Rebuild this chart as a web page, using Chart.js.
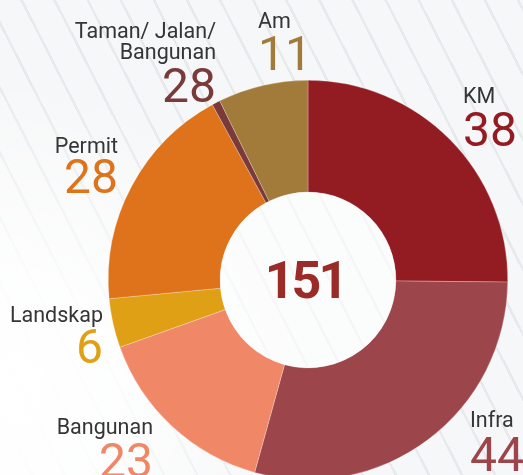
<!DOCTYPE html>
<html lang="ms">
<head>
  <meta charset="UTF-8">
  <title>Jumlah Aduan</title>
  <script src="https://cdn.jsdelivr.net/npm/chart.js"></script>
  <style>
    html, body { margin: 0; padding: 0; overflow: hidden; }
    body {
      width: 523px; height: 475px; position: relative;
      background:
        radial-gradient(circle at 0% 82%, #ffffff 0, rgba(255,255,255,0.85) 18%, rgba(255,255,255,0) 48%),
        repeating-linear-gradient(63deg, #f6f7f8 0 27px, #e8e9ec 27px 29.5px);
    }
    #chart { position: absolute; left: 0; top: 0; }
  </style>
</head>
<body>
  <canvas id="chart" width="523" height="480"></canvas>

  <script>
    // Aduan mengikut kategori (ikut arah jam bermula dari atas)
    const categories = ['KM', 'Infra', 'Bangunan', 'Landskap', 'Permit', 'Taman/ Jalan/\nBangunan', 'Am'];
    const counts = [38, 44, 23, 6, 28, 1, 11];
    const countLabels = ['38', '44', '23', '6', '28', '28', '11'];
    const colors = ['#921c22', '#9c454b', '#f08868', '#e0a016', '#df731c', '#7b3a3a', '#a27a3a'];

    // where each category's caption sits (name baseline, number baseline)
    const labelPos = [
      { x: 463, name: 103, num: 146, align: 'left' },
      { x: 470, name: 427, num: 471, align: 'left' },
      { x: 153, name: 434, num: 477, align: 'right' },
      { x: 103, name: 322, num: 363, align: 'right' },
      { x: 118, name: 153, num: 193, align: 'right' },
      { x: 216, name: 38,  num: 102, align: 'right' },
      { x: 258, name: 28,  num: 70,  align: 'left' }
    ];

    const total = counts.reduce((a, b) => a + b, 0);

    const captions = {
      id: 'captions',
      afterDatasetsDraw(chart) {
        const ctx = chart.ctx;
        const arc = chart.getDatasetMeta(0).data[0];

        // whitened hole with the total
        ctx.save();
        ctx.beginPath();
        ctx.arc(arc.x, arc.y, arc.innerRadius, 0, Math.PI * 2);
        ctx.fillStyle = 'rgba(255,255,255,0.6)';
        ctx.fill();
        ctx.fillStyle = '#9b2b27';
        ctx.font = 'bold 52px Roboto';
        ctx.letterSpacing = '-3px';
        ctx.textAlign = 'center';
        ctx.textBaseline = 'alphabetic';
        ctx.fillText(String(total), arc.x - 3, arc.y + 18);
        ctx.letterSpacing = '0px';

        categories.forEach((name, i) => {
          const p = labelPos[i];
          ctx.textAlign = p.align;
          ctx.fillStyle = '#353535';
          ctx.font = '21.5px Roboto';
          name.split('\n').forEach((line, k) => {
            ctx.fillText(line, p.x, p.name + k * 21);
          });
          ctx.fillStyle = colors[i];
          ctx.font = '48px Roboto';
          ctx.fillText(countLabels[i], p.x, p.num);
        });
        ctx.restore();
      }
    };

    new Chart(document.getElementById('chart').getContext('2d'), {
      type: 'doughnut',
      data: {
        labels: categories,
        datasets: [{
          data: counts,
          backgroundColor: colors,
          borderColor: 'rgba(255,255,255,0.5)',
          borderWidth: 0.5
        }]
      },
      options: {
        responsive: false,
        animation: false,
        cutout: '44%',
        layout: { padding: { left: 108, right: 15, top: 80, bottom: 0 } },
        plugins: {
          legend: { display: false },
          tooltip: { enabled: false }
        }
      },
      plugins: [captions]
    });
  </script>
</body>
</html>
